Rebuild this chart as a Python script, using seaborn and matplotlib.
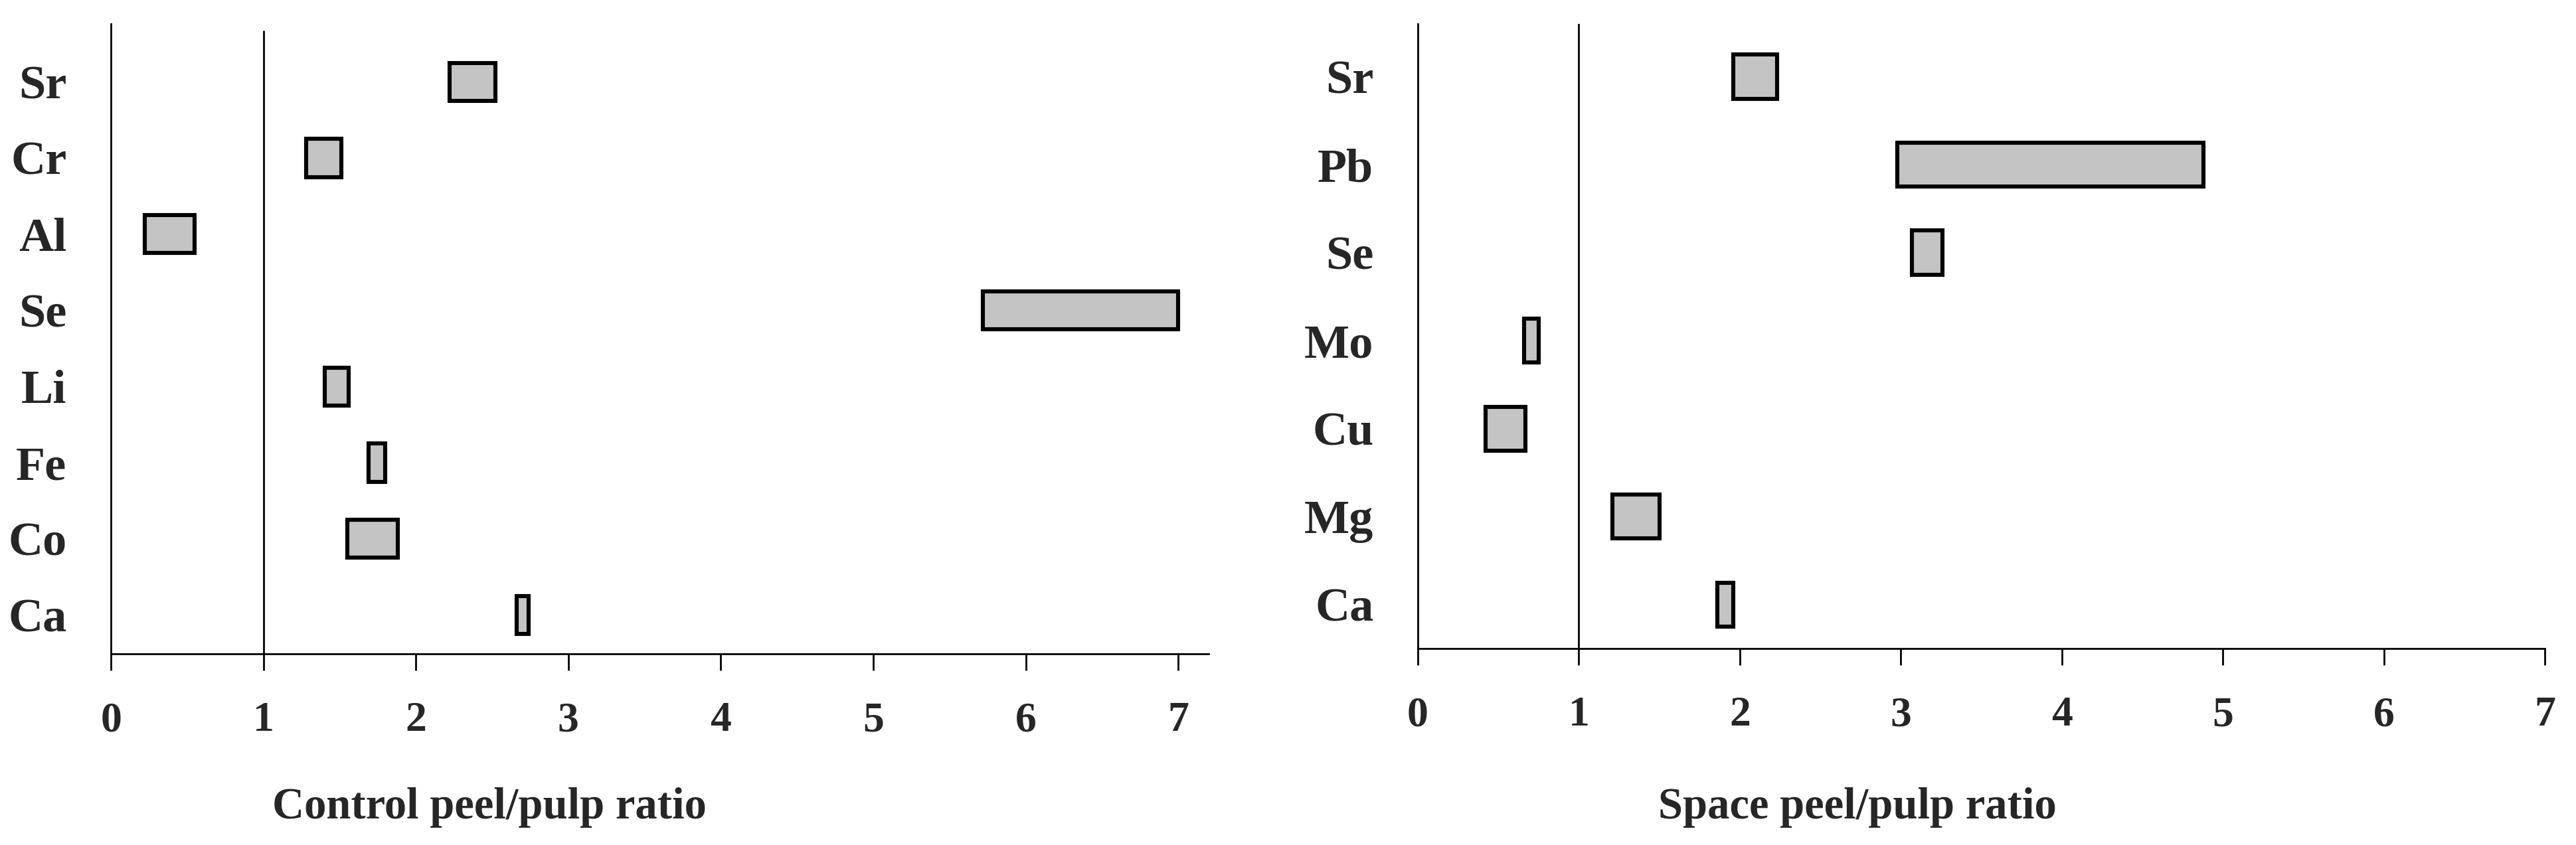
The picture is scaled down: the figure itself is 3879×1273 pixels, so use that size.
import numpy as np
import pandas as pd
import seaborn as sns
import matplotlib.pyplot as plt

# control peel/pulp ratio ranges (min, max)
ctrl_elem = ["Sr", "Cr", "Al", "Se", "Li", "Fe", "Co", "Ca"]
ctrl_low = [2.22, 1.28, 0.22, 5.72, 1.40, 1.69, 1.55, 2.66]
ctrl_high = [2.52, 1.51, 0.55, 7.00, 1.56, 1.80, 1.88, 2.74]

# space peel/pulp ratio ranges (min, max)
space_elem = ["Sr", "Pb", "Se", "Mo", "Cu", "Mg", "Ca"]
space_low = [1.96, 2.98, 3.07, 0.66, 0.42, 1.21, 1.86]
space_high = [2.23, 4.88, 3.26, 0.75, 0.67, 1.50, 1.96]

xticks = [0, 1, 2, 3, 4, 5, 6, 7]

sns.set_style("white")
plt.rcParams["font.family"] = ["Liberation Serif", "DejaVu Serif"]
plt.rcParams["font.weight"] = "bold"

fig = plt.figure(figsize=(19.395, 6.365), dpi=200)
ax1 = fig.add_axes([0.0431, 0.2262, 0.4261, 0.7455])
ax2 = fig.add_axes([0.5504, 0.2325, 0.4375, 0.7392])


def range_bars(ax, elem, low, high, xmax, ylims, label, lab_x, lab_y, vtop):
    df = pd.DataFrame({"elem": elem, "low": low, "high": high})
    df["span"] = df["high"] - df["low"]
    sns.barplot(data=df, y="elem", x="span", order=elem, color="#c4c4c4",
                saturation=1, width=0.5, edgecolor="black", linewidth=2.2,
                ax=ax)
    # shift every bar so it starts at its min value
    for patch, lo in zip(ax.patches, df["low"]):
        patch.set_x(lo)
    ax.axvline(1, ymax=vtop, color="black", lw=1.0, zorder=0)
    ax.set_xlim(0, xmax)
    ax.set_ylim(*ylims)
    ax.set_xticks(xticks)
    ax.set_xticklabels([str(t) for t in xticks], fontsize=23, fontweight="bold")
    for t in ax.get_yticklabels():
        t.set_fontsize(26)
        t.set_fontweight("bold")
    ax.tick_params(axis="x", direction="out", length=9, width=1.0,
                   pad=17, bottom=True, color="black")
    ax.tick_params(axis="y", length=0, pad=24)
    for s in ["top", "right"]:
        ax.spines[s].set_visible(False)
    for s in ["left", "bottom"]:
        ax.spines[s].set_color("black")
        ax.spines[s].set_linewidth(1.0)
    ax.set_ylabel("")
    ax.set_xlabel(label, fontsize=24, fontweight="bold")
    ax.xaxis.set_label_coords(lab_x, lab_y)
    ax.xaxis.label.set_va("center")


range_bars(ax1, ctrl_elem, ctrl_low, ctrl_high, 7.2, (7.51, -0.76),
           "Control peel/pulp ratio", 0.345, -0.244, 0.988)
range_bars(ax2, space_elem, space_low, space_high, 7.0, (6.5, -0.6),
           "Space peel/pulp ratio", 0.39, -0.255, 1.0)

plt.savefig("out.png", dpi=200)
